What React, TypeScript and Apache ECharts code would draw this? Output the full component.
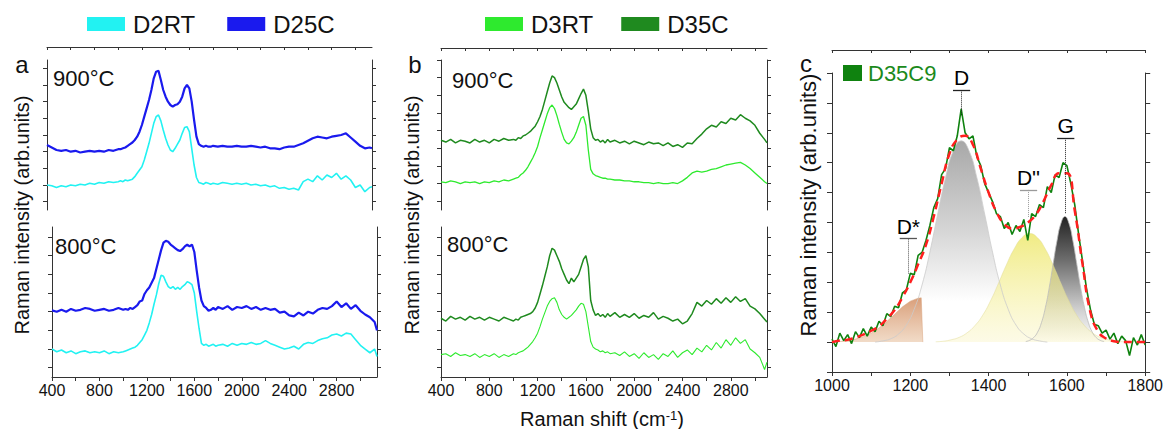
import React, { useEffect, useRef } from 'react';
import * as echarts from 'echarts';

const FONT = "'Liberation Sans', Arial, Helvetica, sans-serif";

const span = (a: number, b: number, s: number) => {
  const r: number[] = [];
  for (let v = a; v <= b + 1e-9; v += s) r.push(Math.round(v * 100) / 100);
  return r;
};

// ---- Raman shift sampling (cm-1) ----
const shiftCore = [...span(400, 1000, 40), ...span(1020, 1800, 20), ...span(1840, 3080, 40)];
const shiftA = [...shiftCore, 3120, 3140];
const shiftB = [...shiftCore, 3100];

// ---- panel a (arb. units, offset stacked) ----
const a900D2RT = [
  1.0, 0.95, 0.85, 0.95, 0.9, 1.0, 0.95, 1.05, 1.0, 1.1, 1.05, 1.15, 1.1, 1.2, 1.15, 1.2,
  1.25, 1.2, 1.3, 1.25, 1.3, 1.35, 1.5, 1.7, 1.9, 2.1,
  2.5, 3.0, 3.5, 4.1, 4.7, 5.1, 5.2, 4.85, 4.3, 3.8,
  3.4, 3.1, 3.0, 3.2, 3.45, 3.7, 4.1, 4.45, 4.5, 4.2,
  3.2, 2.2, 1.45, 1.15, 1.1, 1.05, 1.15, 1.1, 1.05, 1.1,
  1.05, 1.15, 1.1, 1.05, 1.1, 1.05, 1.1, 1.0, 1.05, 0.95,
  1.0, 0.9, 0.95, 0.8, 0.85, 0.75, 0.8, 0.7, 1.2, 1.35,
  1.2, 1.55, 1.3, 1.6, 1.45, 1.7, 1.35, 1.55, 1.3, 0.85,
  1.0, 0.6, 0.85, 0.9,
];
const a900D25C = [
  3.4, 3.25, 3.1, 3.05, 3.1, 3.0, 3.05, 2.95, 3.0, 3.05, 3.0, 3.05, 3.0, 3.1, 3.05, 3.15,
  3.15, 3.2, 3.25, 3.35, 3.45, 3.55, 3.7, 3.9, 4.2, 4.6,
  5.1, 5.6, 6.1, 6.7, 7.4, 7.8, 7.85, 7.3, 6.7, 6.3,
  6.0, 5.8, 5.7, 5.8, 5.85, 6.0, 6.3, 6.8, 7.0, 6.8,
  6.0, 4.9, 3.9, 3.45, 3.35, 3.3, 3.35, 3.3, 3.3, 3.35,
  3.3, 3.35, 3.3, 3.3, 3.35, 3.3, 3.3, 3.35, 3.3, 3.25,
  3.3, 3.2, 3.2, 3.15, 3.25, 3.3, 3.3, 3.4, 3.5, 3.65,
  3.8, 3.9, 3.85, 3.8, 3.9, 3.95, 4.0, 4.1, 3.85, 3.6,
  3.35, 3.2, 3.25, 3.2,
];
const a800D2RT = [
  1.0, 0.85, 0.95, 0.8, 0.9, 0.75, 0.85, 0.9, 0.8, 0.85, 0.8, 0.9, 0.75, 0.85, 0.8, 0.85,
  0.9, 0.95, 1.0, 1.05, 1.1, 1.2, 1.35, 1.5, 1.75, 2.0,
  2.4, 2.85, 3.4, 3.9, 4.5, 4.95, 4.9, 4.6, 4.35, 4.25,
  4.35, 4.2, 4.3, 4.2, 4.35, 4.45, 4.6, 4.55, 4.45, 4.0,
  3.0, 2.1, 1.3, 1.2, 1.25, 1.15, 1.2, 1.25, 1.15, 1.2,
  1.25, 1.15, 1.3, 1.2, 1.3, 1.25, 1.35, 1.25, 1.3, 1.45,
  1.3, 1.2, 1.1, 1.0, 1.05, 1.15, 1.0, 1.25, 1.35, 1.3,
  1.45, 1.55, 1.6, 1.75, 1.8, 1.7, 1.85, 1.8, 1.5, 1.2,
  1.0, 0.8, 1.0, 0.6,
];
const a800D25C = [
  3.07, 3.0, 3.1, 3.0, 3.15, 3.05, 3.1, 3.2, 3.15, 3.05, 3.1, 3.15, 3.05, 3.1, 3.2, 3.1,
  3.15, 3.1, 3.2, 3.15, 3.25, 3.35, 3.55, 3.6, 3.95, 4.15,
  4.3, 4.55, 4.8, 5.3, 5.8, 6.3, 6.7, 6.8, 6.75, 6.6,
  6.5, 6.4, 6.3, 6.25, 6.35, 6.5, 6.6, 6.5, 6.6, 6.2,
  5.2, 4.3, 3.6, 3.3, 3.2, 3.05, 3.1, 3.2, 3.1, 3.25,
  3.15, 3.3, 3.1, 3.25, 3.2, 3.3, 3.15, 3.25, 3.1, 3.2,
  3.1, 3.15, 2.95, 3.0, 2.8, 2.75, 2.95, 2.8, 3.0, 2.9,
  3.1, 3.2, 3.15, 3.3, 3.55, 3.25, 3.45, 3.15, 3.35, 3.05,
  2.85, 2.7, 2.45, 2.0,
];

// ---- panel b ----
const b900D3RT = [
  1.1, 1.05, 1.15, 1.1, 1.0, 1.1, 1.05, 1.1, 1.0, 1.1, 1.05, 1.15, 1.1, 1.2, 1.15, 1.25,
  1.3, 1.35, 1.5, 1.6, 1.75, 1.95, 2.2, 2.45, 2.75, 3.1,
  3.6, 4.05, 4.5, 4.95, 5.3, 5.45, 5.25, 4.85, 4.35, 3.9,
  3.5, 3.3, 3.25, 3.4, 3.6, 3.9, 4.3, 4.7, 4.8, 4.3,
  2.9, 1.8, 1.55, 1.45, 1.4, 1.35, 1.3, 1.3, 1.25, 1.25,
  1.2, 1.2, 1.15, 1.15, 1.1, 1.1, 1.05, 1.05, 1.0, 1.05,
  1.0, 1.0, 1.05, 1.0, 1.15, 1.35, 1.6, 1.7, 1.65, 1.7,
  1.8, 1.85, 1.95, 2.05, 2.1, 2.15, 2.2, 2.05, 1.85, 1.6,
  1.35, 1.1, 1.0,
];
const b900D35C = [
  3.45, 3.35, 3.5, 3.3, 3.45, 3.4, 3.3, 3.5, 3.35, 3.45, 3.3, 3.5, 3.4, 3.55, 3.45, 3.5,
  3.45, 3.6, 3.55, 3.7, 3.75, 3.85, 3.95, 4.1, 4.25, 4.5,
  4.8, 5.2, 5.7, 6.2, 6.7, 7.1, 7.0, 6.7, 6.3, 5.9,
  5.6, 5.45, 5.3, 5.2, 5.35, 5.5, 5.8, 6.1, 6.35, 6.0,
  5.1, 4.1, 3.6, 3.45, 3.5, 3.35, 3.45, 3.3, 3.5, 3.35,
  3.45, 3.3, 3.4, 3.25, 3.4, 3.3, 3.2, 3.35, 3.25, 3.3,
  3.15, 3.3, 3.1, 3.2, 3.05, 3.3, 3.25, 3.55, 3.8, 4.1,
  4.3, 4.2, 4.5, 4.4, 4.7, 4.6, 4.9, 4.7, 4.55, 4.3,
  3.85, 3.5, 3.3,
];
const b800D3RT = [
  0.7, 0.75, 0.6, 0.8, 0.65, 0.7, 0.6, 0.75, 0.55, 0.7, 0.6, 0.75, 0.55, 0.7, 0.6, 0.75,
  0.7, 0.8, 0.85, 0.9, 1.0, 1.1, 1.25, 1.4, 1.6, 1.85,
  2.2, 2.6, 2.95, 3.3, 3.55, 3.7, 3.75, 3.5, 3.1, 2.85,
  2.7, 2.6, 2.7, 2.8, 2.95, 3.1, 3.3, 3.45, 3.4, 3.0,
  2.2, 1.4, 1.1, 1.0, 0.95, 0.85, 0.9, 0.8, 0.85, 0.75,
  0.8, 0.65, 0.85, 0.6, 0.75, 0.5, 0.8, 0.55, 0.7, 0.45,
  0.75, 0.6, 0.9, 0.55, 0.8, 0.95, 0.7, 1.05, 0.85, 1.2,
  0.95, 1.35, 1.05, 1.5, 1.2, 1.6, 1.3, 1.5, 1.0, 0.8,
  0.55, -0.1, 0.3,
];
const b800D35C = [
  2.65, 2.5, 2.75, 2.6, 2.7, 2.55, 2.75, 2.6, 2.7, 2.55, 2.7, 2.6, 2.5, 2.7, 2.6, 2.5,
  2.6, 2.55, 2.7, 2.75, 2.8, 2.85, 2.9, 3.0, 3.2, 3.5,
  3.95, 4.4, 4.9, 5.4, 6.0, 6.4, 6.3, 6.0, 5.7, 5.3,
  5.0, 4.7, 4.5, 4.8, 4.6, 4.8, 5.0, 5.4, 5.8, 6.0,
  5.4, 3.6, 3.1, 2.8, 2.9, 2.75, 2.85, 2.7, 2.9, 2.75,
  2.95, 2.7, 2.85, 2.7, 2.9, 2.65, 2.8, 2.7, 2.95, 2.6,
  2.75, 2.65, 2.5, 2.6, 2.35, 2.5, 2.9, 3.5, 3.3, 3.6,
  3.4, 3.7, 3.45, 3.75, 3.5, 3.8, 3.55, 3.7, 3.3, 3.15,
  2.9, 2.6, 2.45,
];

// ---- panel c: D35C9 spectrum, fit and components ----
const shiftC = span(1000, 1800, 10);
const d35c9 = [
  0.1, -0.15, 0.3, 0.05, 0.25, -0.05, 0.35, 0.15, 0.45, 0.2,
  0.5, 0.35, 0.7, 0.55, 0.95, 0.85, 1.2, 1.15, 1.65, 1.75,
  2.3, 2.25, 2.9, 3.0, 3.4, 3.9, 4.5, 4.8, 5.6, 5.8,
  6.5, 6.4, 6.9, 7.8, 7.0, 6.8, 6.9, 6.2, 5.9, 5.3,
  5.0, 4.7, 4.3, 4.2, 3.8, 4.0, 3.6, 3.9, 3.7, 4.1,
  3.4, 4.3, 4.2, 4.6, 4.5, 5.2, 5.0, 5.6, 5.5, 6.0,
  5.9, 5.3, 4.6, 3.6, 2.7, 1.8, 1.1, 0.6, 0.55, 0.3,
  0.4, 0.1, 0.3, -0.05, 0.2, 0.05, -0.45, 0.15, -0.1, 0.25,
  -0.1,
];
const shiftFit = span(1000, 1800, 20);
const fitSum = [
  0.0, 0.05, 0.08, 0.15, 0.25, 0.38, 0.53, 0.78, 1.07, 1.5,
  2.0, 2.6, 3.25, 4.2, 5.3, 6.3, 6.78, 6.9, 6.6, 5.8,
  5.0, 4.35, 3.95, 3.8, 3.85, 4.0, 4.25, 4.7, 5.25, 5.65,
  5.65, 4.4, 2.6, 1.0, 0.35, 0.12, 0.03, 0.0, 0.0, 0.0,
  0.0,
];
const shiftD = span(1110, 1550, 20);
const bandD = [0, 0.04, 0.11, 0.27, 0.57, 1.1, 1.91, 3.01, 4.28, 5.5, 6.4, 6.73, 6.4, 5.5, 4.28, 3.01, 1.91, 1.1, 0.57, 0.27, 0.11, 0.04, 0];
const shiftG = span(1495, 1695, 10);
const bandG = [0.02, 0.06, 0.15, 0.33, 0.65, 1.15, 1.83, 2.63, 3.41, 3.98, 4.2, 3.98, 3.41, 2.63, 1.83, 1.15, 0.65, 0.33, 0.15, 0.06, 0.02];
const shiftDpp = span(1265, 1745, 20);
const bandDpp = [0.01, 0.03, 0.08, 0.16, 0.31, 0.55, 0.9, 1.38, 1.96, 2.57, 3.11, 3.49, 3.63, 3.49, 3.11, 2.57, 1.96, 1.38, 0.9, 0.55, 0.31, 0.16, 0.08, 0.03, 0.01];
const shiftDs = [1000, 1020, 1040, 1060, 1080, 1100, 1120, 1140, 1160, 1180, 1200, 1220, 1228, 1232];
const bandDs = [0.0, 0.02, 0.05, 0.1, 0.18, 0.3, 0.47, 0.69, 0.93, 1.18, 1.37, 1.47, 1.48, 0.0];

// peak annotations
const peakNames = ['D*', 'D', "D''", 'G'];
const peakPos = [1195, 1331, 1502, 1597];
const peakBarY = [3.46, 8.42, 5.09, 6.82];
const peakDotEnd = [2.29, 7.55, 4.17, 4.3];

// ---- ticks ----
const xTicksAB = span(400, 3000, 200);
const xLabelsAB = [400, 800, 1200, 1600, 2000, 2400, 2800];
const xTicksC = span(1000, 1800, 100);
const xLabelsC = [1000, 1200, 1400, 1600, 1800];
const yTicks9 = [0, 1, 2, 3, 4, 5, 6, 7, 8];
const yTicks8 = [0, 1, 2, 3, 4, 5, 6, 7];
const yTicksC = span(-1, 9, 1);

const C = {
  cyan: '#22f2f2', blue: '#1a1aee', lime: '#2eea2e', forest: '#1f8a1f',
  green: '#0f820f', red: '#ff1f1f', ink: '#111111', axis: '#333333',
};
const peakTone = ['#555555', '#222222', '#9a9a9a', '#222222'];

const pairs = (xs: number[], ys: number[]) => xs.map((x, i) => [x, ys[i]]);

const axLine = { show: true, onZero: false, lineStyle: { color: C.axis, width: 1 } };

function frameX(gridIndex: number, min: number, max: number, offset: number, ticks: number[]) {
  return {
    gridIndex, type: 'value', position: 'top', offset, min, max,
    axisLine: axLine,
    axisTick: { show: true, inside: true, length: 3, customValues: ticks, lineStyle: { color: C.axis } },
    axisLabel: { show: false }, splitLine: { show: false },
  };
}
function bottomX(gridIndex: number, min: number, max: number, ticks: number[], labels: number[]) {
  return {
    gridIndex, type: 'value', position: 'bottom', min, max,
    axisLine: axLine,
    axisTick: { show: true, inside: false, length: 4, customValues: ticks, lineStyle: { color: C.axis } },
    axisLabel: {
      show: true, customValues: labels, fontSize: 16, color: C.ink, fontFamily: FONT, margin: 5,
      formatter: (v: number) => String(v),
    },
    splitLine: { show: false },
  };
}
function sideY(gridIndex: number, position: string, min: number, max: number, ticks: number[], len: number) {
  return {
    gridIndex, type: 'value', position, min, max,
    axisLine: axLine,
    axisTick: { show: true, inside: false, length: len, customValues: ticks, lineStyle: { color: C.axis } },
    axisLabel: { show: false }, splitLine: { show: false },
  };
}
function spec(name: string, xi: number, yi: number, xs: number[], ys: number[], color: string, width: number) {
  return {
    type: 'line', name, xAxisIndex: xi, yAxisIndex: yi, data: pairs(xs, ys),
    symbol: 'none', showSymbol: false, color, itemStyle: { color },
    lineStyle: { color, width }, silent: true,
  };
}
function band(name: string, xs: number[], ys: number[], stops: any[], edge: string, smooth: boolean) {
  return {
    type: 'line', name, xAxisIndex: 4, yAxisIndex: 8, data: pairs(xs, ys),
    symbol: 'none', showSymbol: false, smooth, silent: true,
    lineStyle: { color: edge, width: 0.8 },
    areaStyle: { opacity: 1, color: { type: 'linear', x: 0, y: 0, x2: 0, y2: 1, colorStops: stops } },
  };
}

const annLines = peakNames.flatMap((_, i) => [
  [
    { coord: [peakPos[i] - 22, peakBarY[i]], lineStyle: { color: peakTone[i], width: 1.3, type: 'solid' } },
    { coord: [peakPos[i] + 22, peakBarY[i]] },
  ],
  [
    { coord: [peakPos[i], peakBarY[i]], lineStyle: { color: peakTone[i], width: 1, type: 'dotted' } },
    { coord: [peakPos[i], peakDotEnd[i]] },
  ],
]);

const txt = (text: string, x: number, y: number, size: number, align = 'center', rotation = 0, fill = C.ink) => ({
  type: 'text', x, y, rotation, silent: true,
  style: { text, fontSize: size, fontFamily: FONT, fill, align, verticalAlign: 'middle' },
});

const option: any = {
  animation: false,
  backgroundColor: '#ffffff',
  textStyle: { fontFamily: FONT },
  grid: [
    { left: 47, top: 60, width: 325, height: 150 },
    { left: 52, top: 227, width: 325, height: 150 },
    { left: 441, top: 60, width: 326, height: 150 },
    { left: 441, top: 227, width: 326, height: 150 },
    { left: 832, top: 73, width: 315, height: 299 },
  ],
  xAxis: [
    frameX(0, 400, 3140, 13, xTicksAB),
    bottomX(1, 400, 3140, xTicksAB, xLabelsAB),
    frameX(2, 400, 3100, 12, xTicksAB),
    bottomX(3, 400, 3100, xTicksAB, xLabelsAB),
    bottomX(4, 1000, 1800, xTicksC, xLabelsC),
    frameX(4, 1000, 1800, 23, xTicksC),
  ],
  yAxis: [
    sideY(0, 'left', -0.5, 8.5, yTicks9, 4),
    sideY(0, 'right', -0.5, 8.5, yTicks9, 4),
    sideY(1, 'left', -0.5, 7.54, yTicks8, 4),
    sideY(1, 'right', -0.5, 7.54, yTicks8, 4),
    sideY(2, 'left', -0.5, 8, yTicks9, 4),
    sideY(2, 'right', -0.5, 8, yTicks9, 4),
    sideY(3, 'left', -0.5, 7.54, yTicks8, 4),
    sideY(3, 'right', -0.5, 7.54, yTicks8, 4),
    sideY(4, 'left', -1, 9, yTicksC, 5),
    sideY(4, 'right', -1, 9, yTicksC, 5),
  ],
  legend: [
    {
      data: ['D2RT', 'D25C'], left: 87, top: 12, icon: 'rect', itemWidth: 38, itemHeight: 14, itemGap: 32,
      selectedMode: false, padding: 0, itemStyle: { borderWidth: 0 },
      textStyle: { fontSize: 24, color: C.ink, fontFamily: FONT, padding: [0, 0, 0, 3] },
    },
    {
      data: ['D3RT', 'D35C'], left: 485, top: 12, icon: 'rect', itemWidth: 38, itemHeight: 14, itemGap: 28,
      selectedMode: false, padding: 0, itemStyle: { borderWidth: 0 },
      textStyle: { fontSize: 24, color: C.ink, fontFamily: FONT, padding: [0, 0, 0, 3] },
    },
    {
      data: ['D35C9'], left: 843, top: 62, icon: 'rect', itemWidth: 19, itemHeight: 16,
      selectedMode: false, padding: 0, itemStyle: { borderWidth: 0 },
      textStyle: { fontSize: 22, color: '#1b8a1b', fontFamily: FONT, padding: [0, 0, 0, 1] },
    },
  ],
  series: [
    spec('D2RT', 0, 0, shiftA, a900D2RT, C.cyan, 1.6),
    spec('D25C', 0, 0, shiftA, a900D25C, C.blue, 2.2),
    spec('D2RT', 1, 2, shiftA, a800D2RT, C.cyan, 1.6),
    spec('D25C', 1, 2, shiftA, a800D25C, C.blue, 2.2),
    spec('D3RT', 2, 4, shiftB, b900D3RT, C.lime, 1.3),
    spec('D35C', 2, 4, shiftB, b900D35C, C.forest, 1.5),
    spec('D3RT', 3, 6, shiftB, b800D3RT, C.lime, 1.1),
    spec('D35C', 3, 6, shiftB, b800D35C, C.forest, 1.5),
    band('D band', shiftD, bandD, [
      { offset: 0, color: '#a8a8a8' }, { offset: 0.45, color: '#d6d6d6' },
      { offset: 0.8, color: '#ffffff' }, { offset: 1, color: '#ffffff' },
    ], '#cccccc', true),
    band('G band', shiftG, bandG, [
      { offset: 0, color: '#222222' }, { offset: 0.35, color: '#6e6e6e' },
      { offset: 0.75, color: '#d2d2d2' }, { offset: 1, color: '#ffffff' },
    ], '#bbbbbb', true),
    band("D'' band", shiftDpp, bandDpp, [
      { offset: 0, color: 'rgba(238,232,110,0.85)' }, { offset: 0.6, color: 'rgba(245,240,160,0.6)' },
      { offset: 1, color: 'rgba(250,245,200,0.45)' },
    ], 'rgba(225,220,150,0.6)', true),
    band('D* band', shiftDs, bandDs, [
      { offset: 0, color: 'rgba(214,150,110,0.92)' }, { offset: 1, color: 'rgba(238,210,185,0.8)' },
    ], 'rgba(214,160,120,0.6)', false),
    spec('D35C9', 4, 8, shiftC, d35c9, C.green, 1.6),
    {
      type: 'line', name: 'fit', xAxisIndex: 4, yAxisIndex: 8, data: pairs(shiftFit, fitSum),
      symbol: 'none', showSymbol: false, smooth: true, silent: true,
      lineStyle: { color: C.red, width: 2.5, type: [8, 5] },
    },
    {
      type: 'scatter', name: 'peaks', xAxisIndex: 4, yAxisIndex: 8, symbol: 'circle', symbolSize: 2, silent: true,
      itemStyle: { color: '#ffffff', opacity: 0 }, z: 5,
      data: peakNames.map((n, i) => ({ value: [peakPos[i], peakBarY[i]], name: n })),
      label: {
        show: true, position: 'top', distance: 1, fontSize: 21, color: '#000000', opacity: 1,
        fontFamily: FONT, formatter: (p: any) => p.name,
      },
      labelLayout: { hideOverlap: false },
      markLine: { silent: true, symbol: ['none', 'none'], label: { show: false }, data: annLines },
    },
  ],
  graphic: {
    elements: [
      txt('a', 22, 64, 24),
      txt('b', 415, 64, 24),
      txt('c', 806, 63, 24),
      txt('900°C', 53, 78, 22, 'left'),
      txt('800°C', 55, 246, 22, 'left'),
      txt('900°C', 452, 80, 22, 'left'),
      txt('800°C', 447, 244, 22, 'left'),
      txt('Raman intensity (arb.units)', 22, 215, 20, 'center', Math.PI / 2),
      txt('Raman intensity (arb.units)', 412, 215, 20, 'center', Math.PI / 2),
      txt('Raman intensity (arb.units)', 808, 205, 22, 'center', Math.PI / 2),
      {
        type: 'text', x: 602, y: 419, silent: true,
        style: {
          text: 'Raman shift (cm{sup|-1}{n|)}', fontSize: 20, fontFamily: FONT, fill: C.ink,
          align: 'center', verticalAlign: 'middle',
          rich: {
            sup: { fontSize: 13, fontFamily: FONT, fill: C.ink, verticalAlign: 'top' },
            n: { fontSize: 20, fontFamily: FONT, fill: C.ink },
          },
        },
      },
    ],
  },
};

export default function App() {
  const ref = useRef<HTMLDivElement>(null);
  useEffect(() => {
    if (!ref.current) return;
    const chart = echarts.init(ref.current, null, { renderer: 'svg' });
    chart.setOption(option);
    return () => chart.dispose();
  }, []);
  return (
    <div
      ref={ref}
      style={{ position: 'fixed', left: 0, top: 0, width: 1166, height: 429, background: '#ffffff' }}
    />
  );
}
